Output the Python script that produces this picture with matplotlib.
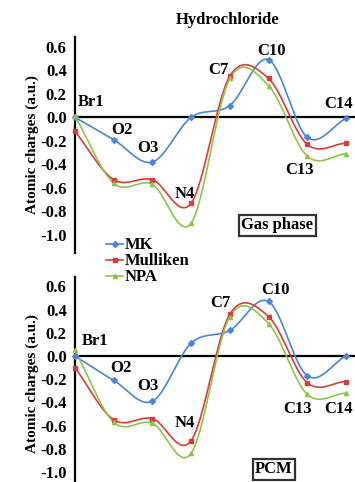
import numpy as np
import matplotlib
matplotlib.use("Agg")
import matplotlib.pyplot as plt

atoms = ["Br1", "O2", "O3", "N4", "C7", "C10", "C13", "C14"]
series_names = ["MK", "Mulliken", "NPA"]

gas_mk = [0.00, -0.19, -0.38, 0.00, 0.10, 0.49, -0.17, -0.01]
gas_mulliken = [-0.12, -0.53, -0.53, -0.73, 0.35, 0.33, -0.23, -0.22]
gas_npa = [0.01, -0.56, -0.57, -0.90, 0.33, 0.27, -0.33, -0.31]

pcm_mk = [0.00, -0.21, -0.39, 0.11, 0.22, 0.47, -0.17, 0.00]
pcm_mulliken = [-0.10, -0.55, -0.54, -0.73, 0.36, 0.34, -0.23, -0.22]
pcm_npa = [0.05, -0.57, -0.58, -0.84, 0.34, 0.28, -0.33, -0.32]

yticks = [-1.0, -0.8, -0.6, -0.4, -0.2, 0.0, 0.2, 0.4, 0.6]
ytick_labels = ["-1.0", "-0.8", "-0.6", "-0.4", "-0.2", "0.0", "0.2", "0.4", "0.6"]

colors = ["#4a86d6", "#d93c3c", "#8fc448"]
markers = ["D", "s", "^"]

FONT = "Liberation Serif"
FS = 12
FS_LAB = 11

W, H = 355, 482
fig = plt.figure(figsize=(W / 100, H / 100), dpi=100)


def px_axes(x0, y0, x1, y1):
    return fig.add_axes([x0 / W, 1 - y1 / H, (x1 - x0) / W, (y1 - y0) / H])


def catmull(xs, ys, n=30):
    xs = np.asarray(xs, float)
    ys = np.asarray(ys, float)
    P = np.column_stack([xs, ys])
    P = np.vstack([2 * P[0] - P[1], P, 2 * P[-1] - P[-2]])
    out = []
    t = np.linspace(0, 1, n)[:, None]
    for i in range(1, len(P) - 2):
        p0, p1, p2, p3 = P[i - 1], P[i], P[i + 1], P[i + 2]
        c1 = p1 + (p2 - p0) / 6
        c2 = p2 - (p3 - p1) / 6
        seg = ((1 - t) ** 3) * p1 + 3 * ((1 - t) ** 2) * t * c1 + 3 * (1 - t) * t ** 2 * c2 + t ** 3 * p2
        out.append(seg if i == 1 else seg[1:])
    seg = np.vstack(out)
    return seg[:, 0], seg[:, 1]


def panel(ax, data, ylim, label_pos, box_text, box_xy):
    x = np.arange(len(atoms))
    handles = []
    for vals, c, m, name in zip(data, colors, markers, series_names):
        sx, sy = catmull(x, vals)
        ax.plot(sx, sy, color=c, lw=1.2, clip_on=True, zorder=3)
        ax.plot(x, vals, ls="none", marker=m, ms=3, color=c, zorder=4, clip_on=False)
        h, = ax.plot([], [], color=c, lw=1.2, marker=m, ms=3)
        handles.append(h)
    ax.axhline(0, color="black", lw=1.6, zorder=2)
    ax.set_xlim(0, 287 / 38.7)
    ax.set_ylim(*ylim)
    ax.set_yticks(yticks)
    ax.set_yticklabels(ytick_labels, fontfamily=FONT, fontweight="bold", fontsize=FS)
    ax.tick_params(axis="y", length=0, pad=6)
    ax.set_xticks([])
    for s in ["top", "right", "bottom"]:
        ax.spines[s].set_visible(False)
    ax.spines["left"].set_linewidth(1.6)
    ax.patch.set_alpha(0)
    ax.set_ylabel("Atomic charges (a.u.)", fontfamily=FONT, fontweight="bold", fontsize=FS_LAB, labelpad=1)
    for name, (lx, ly, ha) in zip(atoms, label_pos):
        ax.text(lx, ly, name, ha=ha, va="center", fontfamily=FONT, fontweight="bold", fontsize=FS,
                clip_on=False, zorder=5)
    fig.text(box_xy[0] / W, 1 - box_xy[1] / H, box_text, ha="center", va="center",
             fontfamily=FONT, fontweight="bold", fontsize=FS,
             bbox=dict(boxstyle="square,pad=0.15", fc="white", ec="#333333", lw=1.6))
    return handles


ax1 = px_axes(75, 36.7, 362, 253)
ax2 = px_axes(75, 276.7, 362, 490)

top_labels = [(0.41, 0.13, "center"), (1.21, -0.11, "center"), (1.89, -0.26, "center"),
              (2.84, -0.65, "center"), (3.70, 0.40, "center"), (5.09, 0.56, "center"),
              (5.81, -0.45, "center"), (6.45, 0.11, "left")]
bot_labels = [(0.52, 0.13, "center"), (1.19, -0.10, "center"), (1.89, -0.255, "center"),
              (2.84, -0.58, "center"), (3.75, 0.456, "center"), (5.17, 0.567, "center"),
              (5.76, -0.453, "center"), (6.45, -0.453, "left")]

h = panel(ax1, [gas_mk, gas_mulliken, gas_npa], ((117.3 - 253) / 117.7, (117.3 - 36.7) / 117.7),
          top_labels, "Gas phase", (277, 225))
u2 = 116.0
panel(ax2, [pcm_mk, pcm_mulliken, pcm_npa], ((356.0 - 490) / u2, (356.0 - 276.7) / u2),
      bot_labels, "PCM", (274, 469))

fig.text(228 / W, 1 - 20 / H, "Hydrochloride", ha="center", va="center",
         fontfamily=FONT, fontweight="bold", fontsize=FS)

leg = fig.legend(h, series_names, loc="upper left", bbox_to_anchor=(98 / W, 1 - 229 / H),
                 frameon=False, borderpad=0, handlelength=1.0, handletextpad=0.1,
                 labelspacing=0.0, prop=dict(family=FONT, weight="bold", size=FS))

fig.savefig("out.png", dpi=100)
